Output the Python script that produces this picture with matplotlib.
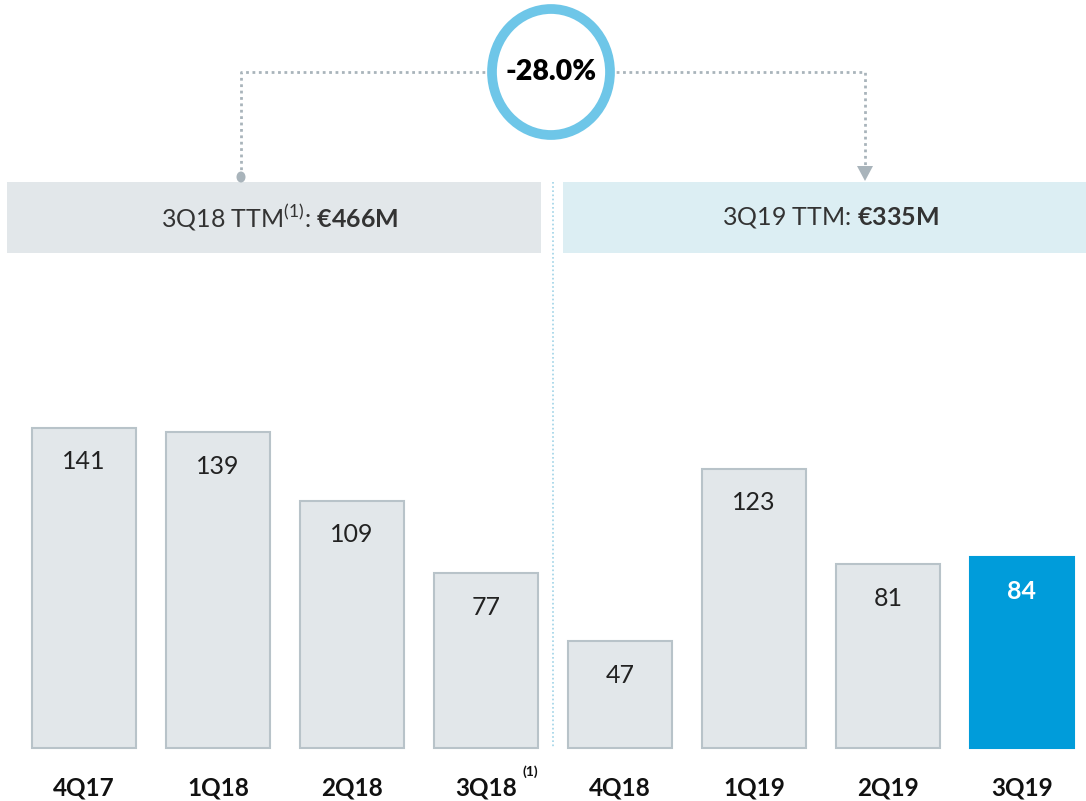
import matplotlib
matplotlib.use("Agg")
import matplotlib.pyplot as plt
from matplotlib.patches import Rectangle, Ellipse, Polygon

plt.rcParams['font.family'] = ['Lato', 'DejaVu Sans']
plt.rcParams['mathtext.fontset'] = 'custom'
plt.rcParams['mathtext.rm'] = 'Lato'
plt.rcParams['mathtext.bf'] = 'Lato:bold'

quarters = ["4Q17", "1Q18", "2Q18", "3Q18", "4Q18", "1Q19", "2Q19", "3Q19"]
values = [141, 139, 109, 77, 47, 123, 81, 84]
header_left = r"3Q18 TTM$^{(1)}$: $\mathbf{€466M}$"
header_right = r"3Q19 TTM: $\mathbf{€335M}$"
change_label = "-28.0%"

W, H = 1086, 801
fig = plt.figure(figsize=(W / 100, H / 100), dpi=100)

# main bar axes (fills figure; scales chosen to match layout)
ax = fig.add_axes([0, 0, 1, 1])
px_per_unit = 2.27
base_px = 748
ax.set_ylim(-(H - base_px) / px_per_unit, base_px / px_per_unit)
step = 134
x0 = 84
ax.set_xlim(-x0 / step, (W - x0) / step)
ax.axis('off')

xs = list(range(len(quarters)))
face = ['#E2E7EA'] * 7 + ['#009CDA']
edge = ['#B8C3C9'] * 7 + ['#009CDA']
ax.bar(xs, values, width=0.77, color=face, edgecolor=edge, linewidth=1.5, zorder=2)

for i, v in enumerate(values):
    last = i == len(values) - 1
    ax.text(i, v - 15, str(v), ha='center', va='center',
            fontsize=18, color='white' if last else '#222222',
            fontweight='bold' if last else 'normal', zorder=3)
    ax.text(i, -17.5, quarters[i], ha='center', va='center',
            fontsize=17.5, fontweight='bold', color='#111111')
ax.text(3 + 0.33, -10.5, "(1)", ha='center', va='center', fontsize=10,
        fontweight='bold', color='#111111')

# overlay axes in pixel coordinates for decorations
ov = fig.add_axes([0, 0, 1, 1], zorder=5)
ov.set_xlim(0, W)
ov.set_ylim(H, 0)
ov.axis('off')
ov.patch.set_alpha(0)

ov.add_patch(Rectangle((7, 182), 534, 71, facecolor='#E2E7EA', edgecolor='none'))
ov.add_patch(Rectangle((563, 182), 523, 71, facecolor='#DCEEF3', edgecolor='none'))
ov.text(280, 218, header_left, ha='center', va='center', fontsize=18, color='#333333')
ov.text(830, 218, header_right, ha='center', va='center', fontsize=18, color='#333333')

# vertical divider
ov.plot([553, 553], [182, 748], color='#9FD3E6', linestyle=(0, (1, 1.5)), linewidth=1.2)

# connector
gray = '#A9B4BB'
ov.plot([241, 241, 865, 865], [176, 72, 72, 168], color=gray,
        linestyle=(0, (1, 1.3)), linewidth=2, zorder=1)
ov.add_patch(Ellipse((241, 177), 9, 11, facecolor=gray, edgecolor='none'))
ov.add_patch(Polygon([[857, 166], [873, 166], [865, 181]], closed=True,
                     facecolor=gray, edgecolor='none'))

# circle
ov.add_patch(Ellipse((551, 72), 118, 126, facecolor='white', edgecolor='#6EC6E8',
                     linewidth=7, zorder=3))
ov.text(551, 72, change_label, ha='center', va='center', fontsize=20.5,
        fontweight='heavy', color='black', zorder=4)

fig.savefig("out.png", dpi=100)
